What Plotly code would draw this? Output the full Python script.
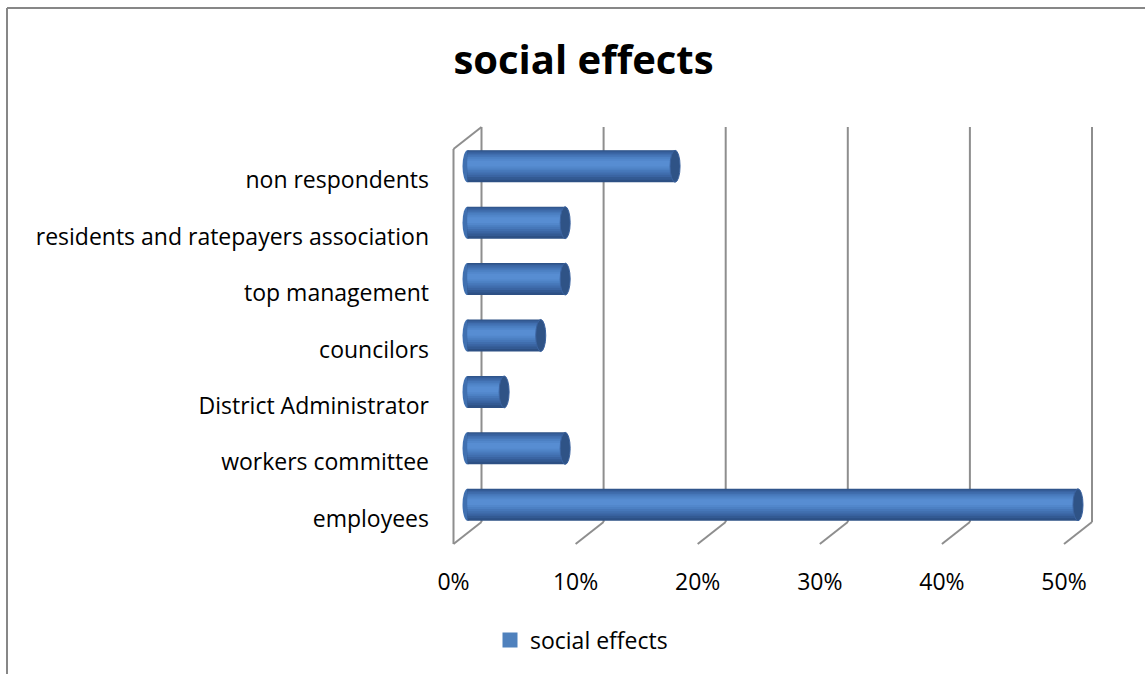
import plotly.graph_objects as go

categories = ["employees", "workers committee", "District Administrator", "councilors",
              "top management", "residents and ratepayers association", "non respondents"]
values = [0.50, 0.08, 0.03, 0.06, 0.08, 0.08, 0.17]
x_ticks = [0, 0.1, 0.2, 0.3, 0.4, 0.5]
x_tick_labels = ["0%", "10%", "20%", "30%", "40%", "50%"]
series_name = "social effects"

FONT = "Open Sans"
W, H = 1145, 674
X0PIX = 467.5            # pixel of value 0 (bar centre plane)
PX_PER_UNIT = 1221.0     # pixels per 100%
L, R, T, B = 445, 45, 138, 141
pw = W - L - R
ph = H - T - B
xmin = (L - X0PIX) / PX_PER_UNIT
xmax = (W - R - X0PIX) / PX_PER_UNIT

BAR_W = 0.567
DEPTH_X = 14
dy = 11 / ph

fig = go.Figure()

bands = [
    (1.00, 0.00, "#2d5084"),
    (0.90, 0.03, "#335a93"),
    (0.78, 0.05, "#3a64a2"),
    (0.66, 0.06, "#406eae"),
    (0.54, 0.07, "#4677b9"),
    (0.42, 0.08, "#4c80c3"),
    (0.30, 0.08, "#5287cb"),
    (0.18, 0.08, "#578dd2"),
]
for i, (frac, shift, col) in enumerate(bands):
    w = BAR_W * frac
    fig.add_trace(go.Bar(
        y=categories, x=values, orientation="h",
        width=w, offset=-w / 2 + shift * BAR_W,
        marker=dict(color=col, line=dict(width=0)),
        name=series_name, showlegend=False, hoverinfo="skip",
    ))
fig.add_trace(go.Scatter(y=[categories[0]], x=[None], mode="markers", name=series_name,
                         marker=dict(symbol="square", size=15, color="#4f81bd"),
                         showlegend=True, hoverinfo="skip"))

shapes = []
grid = dict(color="#8e8e8e", width=2)
for v in x_ticks:
    shapes.append(dict(type="line", xref="x", yref="paper", xsizemode="pixel", xanchor=v,
                       x0=DEPTH_X, x1=DEPTH_X, y0=dy, y1=1 + dy, line=grid, layer="below"))
    shapes.append(dict(type="line", xref="x", yref="paper", xsizemode="pixel", xanchor=v,
                       x0=DEPTH_X, x1=-DEPTH_X, y0=dy, y1=-dy, line=grid, layer="below"))
shapes.append(dict(type="line", xref="x", yref="paper", xsizemode="pixel", xanchor=0,
                   x0=-DEPTH_X, x1=-DEPTH_X, y0=-dy, y1=1 - dy, line=grid, layer="below"))
shapes.append(dict(type="line", xref="x", yref="paper", xsizemode="pixel", xanchor=0,
                   x0=-DEPTH_X, x1=DEPTH_X, y0=1 - dy, y1=1 + dy, line=grid, layer="below"))

for i, v in enumerate(values):
    shapes.append(dict(type="circle", xref="x", yref="y", xsizemode="pixel", xanchor=0,
                       x0=-5, x1=5, y0=i - BAR_W / 2, y1=i + BAR_W / 2,
                       fillcolor="#4070b0", line=dict(width=0), layer="below"))
    shapes.append(dict(type="circle", xref="x", yref="y", xsizemode="pixel", xanchor=v,
                       x0=-5, x1=5, y0=i - BAR_W / 2, y1=i + BAR_W / 2,
                       fillcolor="#2f5386", line=dict(color="#3b63a0", width=1), layer="above"))

border = dict(color="#878787", width=2)
bx = (7 - L) / pw
by = (H - B - 8) / ph
shapes.append(dict(type="line", xref="paper", yref="paper", x0=bx, x1=(W + 5 - L) / pw,
                   y0=by, y1=by, line=border))
shapes.append(dict(type="line", xref="paper", yref="paper", x0=bx, x1=bx,
                   y0=by, y1=(-B - 5) / ph, line=border))

fig.update_layout(
    width=W, height=H,
    margin=dict(l=L, r=R, t=T, b=B, pad=0),
    paper_bgcolor="white", plot_bgcolor="rgba(0,0,0,0)",
    barmode="overlay",
    shapes=shapes,
    title=dict(text="<b>social effects</b>", x=583.5 / W, xanchor="center",
               y=1 - 60 / H, yanchor="middle", xref="container", yref="container",
               font=dict(family=FONT, size=40, color="black")),
    font=dict(family=FONT, size=23, color="black"),
    xaxis=dict(range=[xmin, xmax], tickvals=x_ticks, ticktext=x_tick_labels,
               showgrid=False, zeroline=False, showline=False, ticks="",
               ticklabelshift=-14, ticklabelstandoff=33,
               tickfont=dict(family=FONT, size=23, color="black"), fixedrange=True),
    yaxis=dict(categoryorder="array", categoryarray=categories,
               range=[-0.5, len(categories) - 0.5],
               showgrid=False, zeroline=False, showline=False, ticks="",
               ticklabelshift=14, ticklabelstandoff=15,
               tickfont=dict(family=FONT, size=23, color="black"), fixedrange=True),
    legend=dict(orientation="h", x=490 / W, xanchor="left", y=1 - 640 / H, yanchor="middle",
                xref="container", yref="container", font=dict(family=FONT, size=23),
                bgcolor="rgba(0,0,0,0)"),
    showlegend=True,
)

fig.write_html("out.html")
